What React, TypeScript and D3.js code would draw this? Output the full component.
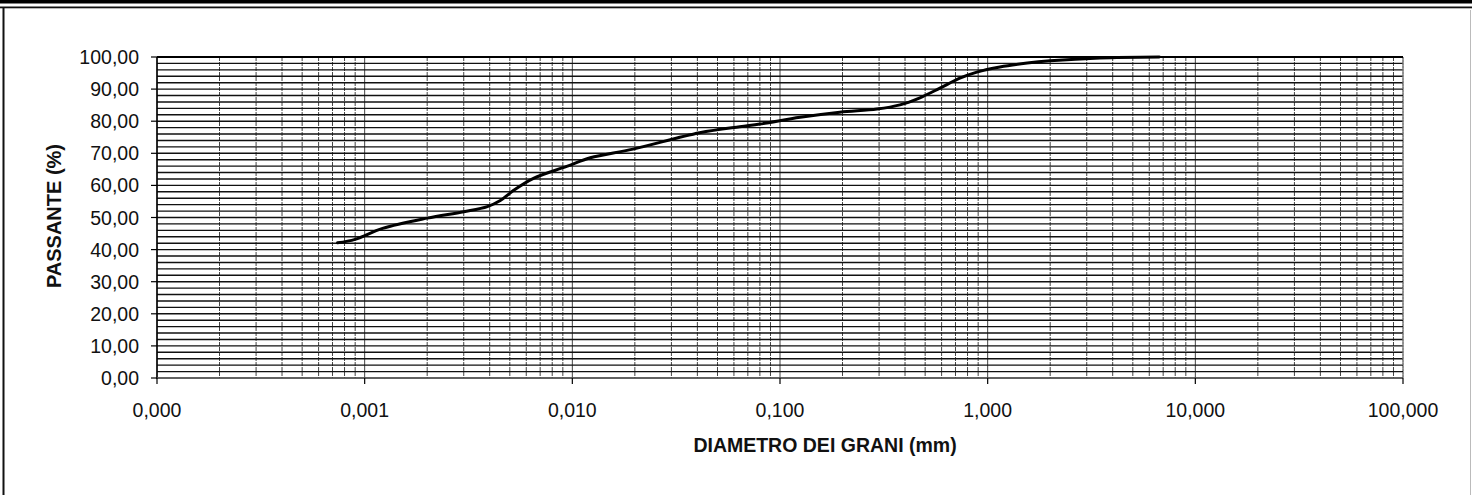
import React from "react";
import * as d3 from "d3";

const diameters = [0.00074, 0.0009, 0.00122, 0.002, 0.003, 0.0039, 0.0045, 0.0052, 0.0065, 0.0094, 0.0122, 0.0196, 0.041, 0.064, 0.08, 0.125, 0.194, 0.293, 0.378, 0.472, 0.589, 0.735, 0.887, 1.145, 1.55, 2.0, 3.47, 6.7];
const passing = [42.1, 43.2, 46.6, 49.8, 51.8, 53.4, 55.3, 58.4, 62.2, 65.9, 68.6, 71.3, 76.4, 78.3, 79.1, 81.2, 82.8, 83.8, 85.1, 87.3, 90.3, 93.4, 95.3, 96.9, 98.1, 98.8, 99.7, 100];
const xTicks = [0.0001, 0.001, 0.01, 0.1, 1, 10, 100];
const yTicks = [0, 10, 20, 30, 40, 50, 60, 70, 80, 90, 100];
const xTitle = "DIAMETRO DEI GRANI (mm)";
const yTitle = "PASSANTE (%)";

const W = 1472, H = 495;
const L = 157, R = 1403, T = 57, B = 378;
const FONT = "'Liberation Sans', Arial, sans-serif";

export default function App() {
  const x = d3.scaleLog().domain([0.0001, 100]).range([L, R]);
  const y = d3.scaleLinear().domain([0, 100]).range([B, T]);

  const minor: number[] = [];
  for (let e = -4; e < 2; e++) {
    for (let k = 2; k <= 9; k++) minor.push(k * Math.pow(10, e));
  }
  const hGrid = d3.range(0, 101, 2);
  const pts = diameters.map((d, i) => [d, passing[i]] as [number, number]);
  const line = d3.line<[number, number]>().x(p => x(p[0])).y(p => y(p[1])).curve(d3.curveCatmullRom.alpha(0.5));

  return (
    <svg width={W} height={H} style={{ position: "absolute", left: 0, top: 0, background: "#fff" }} fontFamily={FONT}>
      <rect x={0} y={0} width={W} height={H} fill="#fff" />
      {/* outer frame */}
      <rect x={0} y={0} width={W} height={3.5} fill="#000" />
      <rect x={0} y={6.5} width={W} height={1.8} fill="#111" />
      <line x1={3.5} y1={7} x2={3.5} y2={H} stroke="#111" strokeWidth={2} />
      <line x1={1470.5} y1={10} x2={1470.5} y2={H} stroke="#bbb" strokeWidth={1} />

      {/* vertical grid */}
      {minor.map((v, i) => (
        <line key={"m" + i} x1={x(v)} x2={x(v)} y1={T} y2={B} stroke="#444" strokeWidth={1} strokeDasharray="4,1" />
      ))}
      {xTicks.map((v, i) => (
        <line key={"M" + i} x1={x(v)} x2={x(v)} y1={T} y2={B} stroke="#444" strokeWidth={1} />
      ))}
      {/* horizontal grid */}
      {hGrid.map((v, i) => (
        <line key={"h" + i} x1={L} x2={R} y1={y(v)} y2={y(v)} stroke="#111" strokeWidth={1.4} />
      ))}
      <line x1={R} x2={R} y1={T} y2={B} stroke="#888" strokeWidth={1.2} strokeDasharray="2,1" />
      <line x1={L} x2={R} y1={T} y2={T} stroke="#000" strokeWidth={1.8} />
      {/* axes */}
      <line x1={L} x2={L} y1={T} y2={B + 1} stroke="#000" strokeWidth={1.5} />
      <line x1={L} x2={R} y1={B} y2={B} stroke="#777" strokeWidth={1.2} />
      {yTicks.map((v, i) => (
        <g key={"yt" + i}>
          <line x1={L - 6} x2={L} y1={y(v)} y2={y(v)} stroke="#000" strokeWidth={1.2} />
          <text x={139} y={y(v)} dy="0.36em" textAnchor="end" fontSize={19.5} fill="#111">
            {v.toFixed(2).replace(".", ",")}
          </text>
        </g>
      ))}
      {xTicks.map((v, i) => (
        <g key={"xt" + i}>
          <line x1={x(v)} x2={x(v)} y1={B} y2={B + 6} stroke="#000" strokeWidth={1.2} />
          <text x={x(v)} y={417} textAnchor="middle" fontSize={19.5} fill="#111">
            {v.toFixed(3).replace(".", ",")}
          </text>
        </g>
      ))}
      {/* curve */}
      <path d={line(pts) || ""} fill="none" stroke="#000" strokeWidth={3} strokeLinejoin="round" strokeLinecap="round" />
      {/* titles */}
      <text x={825} y={452} textAnchor="middle" fontSize={19.5} fontWeight="bold" fill="#111">{xTitle}</text>
      <text transform="translate(61,216) rotate(-90)" textAnchor="middle" fontSize={20} fontWeight="bold" fill="#111">{yTitle}</text>
    </svg>
  );
}
